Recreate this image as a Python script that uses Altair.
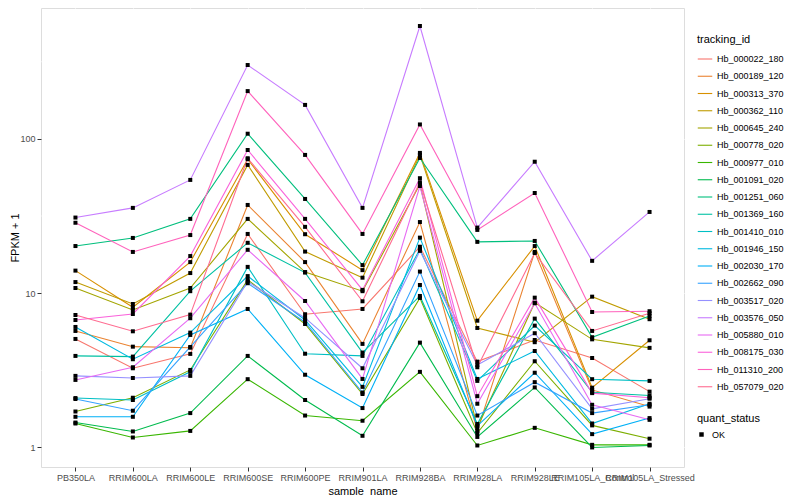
import altair as alt
import pandas as pd

samples = ["PB350LA", "RRIM600LA", "RRIM600LE", "RRIM600SE", "RRIM600PE",
           "RRIM901LA", "RRIM928BA", "RRIM928LA", "RRIM928LE",
           "RRIM105LA_Control", "RRIM105LA_Stressed"]

tracking_ids = ["Hb_000022_180", "Hb_000189_120", "Hb_000313_370", "Hb_000362_110",
                "Hb_000645_240", "Hb_000778_020", "Hb_000977_010", "Hb_001091_020",
                "Hb_001251_060", "Hb_001369_160", "Hb_001410_010", "Hb_001946_150",
                "Hb_002030_170", "Hb_002662_090", "Hb_003517_020", "Hb_003576_050",
                "Hb_005880_010", "Hb_008175_030", "Hb_011310_200", "Hb_057079_020"]

# FPKM + 1 per sample (same order as samples)
hb_000022_180 = [5.05, 3.26, 4.04, 24.2, 7.30, 7.90, 20.0, 3.60, 4.97, 3.80, 2.30]
hb_000189_120 = [5.69, 4.50, 4.43, 37.3, 15.9, 4.69, 28.9, 1.28, 18.5, 2.36, 1.84]
hb_000313_370 = [14.0, 8.10, 15.9, 73.8, 24.1, 14.1, 81.1, 6.63, 20.2, 2.44, 4.95]
hb_000362_110 = [11.8, 8.51, 13.5, 67.8, 18.6, 12.6, 78.7, 5.95, 4.81, 9.49, 6.78]
hb_000645_240 = [10.8, 7.78, 10.8, 30.3, 13.7, 10.3, 50.8, 1.34, 8.68, 5.02, 4.42]
hb_000778_020 = [1.71, 2.10, 3.18, 12.2, 6.31, 2.22, 9.31, 1.24, 3.62, 1.39, 1.14]
hb_000977_010 = [1.43, 1.16, 1.28, 2.77, 1.61, 1.49, 3.09, 1.03, 1.34, 1.04, 1.04]
hb_001091_020 = [1.45, 1.27, 1.67, 3.92, 2.03, 1.19, 4.78, 1.17, 2.45, 1.00, 1.03]
hb_001251_060 = [20.2, 22.8, 30.3, 108.0, 40.8, 15.2, 75.2, 21.5, 21.8, 5.18, 7.11]
hb_001369_160 = [3.92, 3.88, 10.3, 21.2, 13.6, 4.12, 9.59, 1.42, 6.84, 2.28, 2.17]
hb_001410_010 = [2.09, 2.03, 3.09, 14.8, 4.05, 3.92, 19.3, 2.70, 6.16, 2.77, 2.70]
hb_001946_150 = [6.04, 3.73, 5.55, 12.9, 6.70, 2.47, 22.9, 2.78, 4.22, 1.43, 1.92]
hb_002030_170 = [1.58, 1.58, 5.36, 7.90, 2.96, 1.80, 11.3, 1.38, 3.05, 1.22, 1.55]
hb_002662_090 = [2.06, 1.73, 4.48, 11.6, 6.48, 2.27, 13.8, 1.61, 2.65, 1.67, 1.89]
hb_003517_020 = [2.91, 2.82, 2.91, 11.9, 6.91, 3.26, 18.8, 3.42, 5.50, 1.78, 2.07]
hb_003576_050 = [30.9, 35.7, 54.2, 301.0, 166.0, 35.7, 539.0, 26.6, 71.1, 16.2, 33.6]
hb_005880_010 = [2.74, 3.31, 6.88, 19.1, 8.90, 2.78, 49.5, 1.92, 8.60, 1.89, 1.51]
hb_008175_030 = [6.70, 7.33, 17.4, 84.7, 30.3, 10.5, 55.6, 2.15, 9.35, 2.25, 2.10]
hb_011310_200 = [28.6, 18.5, 23.8, 204.0, 78.7, 24.2, 124.0, 25.7, 44.6, 7.55, 7.64]
hb_057079_020 = [7.22, 5.66, 7.26, 74.9, 26.9, 8.86, 52.3, 3.31, 18.2, 5.69, 7.41]

series_values = [hb_000022_180, hb_000189_120, hb_000313_370, hb_000362_110,
                 hb_000645_240, hb_000778_020, hb_000977_010, hb_001091_020,
                 hb_001251_060, hb_001369_160, hb_001410_010, hb_001946_150,
                 hb_002030_170, hb_002662_090, hb_003517_020, hb_003576_050,
                 hb_005880_010, hb_008175_030, hb_011310_200, hb_057079_020]

quant_status = "OK"

palette = ["#F8766D", "#EA8331", "#D89000", "#C09B00", "#A3A500", "#7CAE00",
           "#39B600", "#00BB4E", "#00BF7D", "#00C1A3", "#00BFC4", "#00BAE0",
           "#00B0F6", "#35A2FF", "#9590FF", "#C77CFF", "#E76BF3", "#FA62DB",
           "#FF62BC", "#FF6C91"]

major_breaks = [1, 10, 100]
minor_breaks = [3.1623, 31.623, 316.23]

rows = []
for tid, vals in zip(tracking_ids, series_values):
    for i, (s, v) in enumerate(zip(samples, vals)):
        rows.append({"tracking_id": tid, "sample_name": s, "idx": i,
                     "value": v, "quant_status": quant_status})
df = pd.DataFrame(rows)
minor_df = pd.DataFrame({"value": minor_breaks})

FONT = "Liberation Sans"
W, H = 643, 459

yscale = alt.Scale(type="log", domain=[0.747, 705], nice=False)
yaxis = alt.Axis(values=major_breaks, format="d", title="FPKM + 1",
                 grid=True, gridColor="white", gridWidth=1.1,
                 domain=False, tickColor="#333333", tickSize=4, tickWidth=1,
                 labelFontSize=9, labelColor="#4D4D4D", labelPadding=2,
                 labelFont=FONT, titleFont=FONT, titleFontSize=11,
                 titleFontWeight="normal", titleColor="black",
                 titleX=-26, titleY=H / 2, titleAngle=270, titleBaseline="middle",
                 titleAlign="center")
xscale = alt.Scale(type="point", padding=0.6)
xaxis = alt.Axis(title="sample_name", labelAngle=0, labelOverlap=False,
                 grid=True, gridColor="white", gridWidth=1.1,
                 domain=False, tickColor="#333333", tickSize=4, tickWidth=1,
                 labelFontSize=9, labelColor="#4D4D4D", labelPadding=2,
                 labelFont=FONT, titleFont=FONT, titleFontSize=11,
                 titleFontWeight="normal", titleColor="black", titlePadding=3)

minor = alt.Chart(minor_df).mark_rule(color="white", strokeWidth=0.55).encode(
    y=alt.Y("value:Q", scale=yscale, axis=yaxis)
)

lines = alt.Chart(df).mark_line(strokeWidth=1.1).encode(
    x=alt.X("sample_name:N", sort=samples, scale=xscale, axis=xaxis),
    y=alt.Y("value:Q", scale=yscale, axis=yaxis),
    color=alt.Color("tracking_id:N", sort=tracking_ids,
                    scale=alt.Scale(domain=tracking_ids, range=palette),
                    legend=alt.Legend(title="tracking_id", orient="none",
                                      legendX=656, legendY=26,
                                      symbolType="stroke", symbolSize=210,
                                      symbolStrokeWidth=1.1, rowPadding=4.25,
                                      labelFontSize=9, labelFont=FONT,
                                      labelColor="black", labelOffset=4,
                                      titleFont=FONT, titleFontSize=11,
                                      titleFontWeight="normal", titleColor="black",
                                      titlePadding=6)),
    order=alt.Order("idx:Q"),
)

points = alt.Chart(df).mark_point(filled=True, size=16, color="black", opacity=1).encode(
    x=alt.X("sample_name:N", sort=samples, scale=xscale, axis=xaxis),
    y=alt.Y("value:Q", scale=yscale, axis=yaxis),
    shape=alt.Shape("quant_status:N",
                    scale=alt.Scale(domain=[quant_status], range=["square"]),
                    legend=alt.Legend(title="quant_status", orient="none",
                                      legendX=656, legendY=405,
                                      symbolSize=20, symbolFillColor="black",
                                      symbolStrokeColor="black",
                                      labelFontSize=9, labelFont=FONT,
                                      labelColor="black", labelOffset=6,
                                      titleFont=FONT, titleFontSize=11,
                                      titleFontWeight="normal", titleColor="black",
                                      titlePadding=6)),
)

chart = alt.layer(minor, lines, points).properties(
    width=W, height=H,
    autosize=alt.AutoSizeParams(type="none"),
    padding={"left": 33, "top": 0, "right": 108, "bottom": 28},
).configure_view(fill="#EBEBEB", stroke=None).configure(background="white")

chart.save("out.html", embed_options={"renderer": "svg", "actions": False})
